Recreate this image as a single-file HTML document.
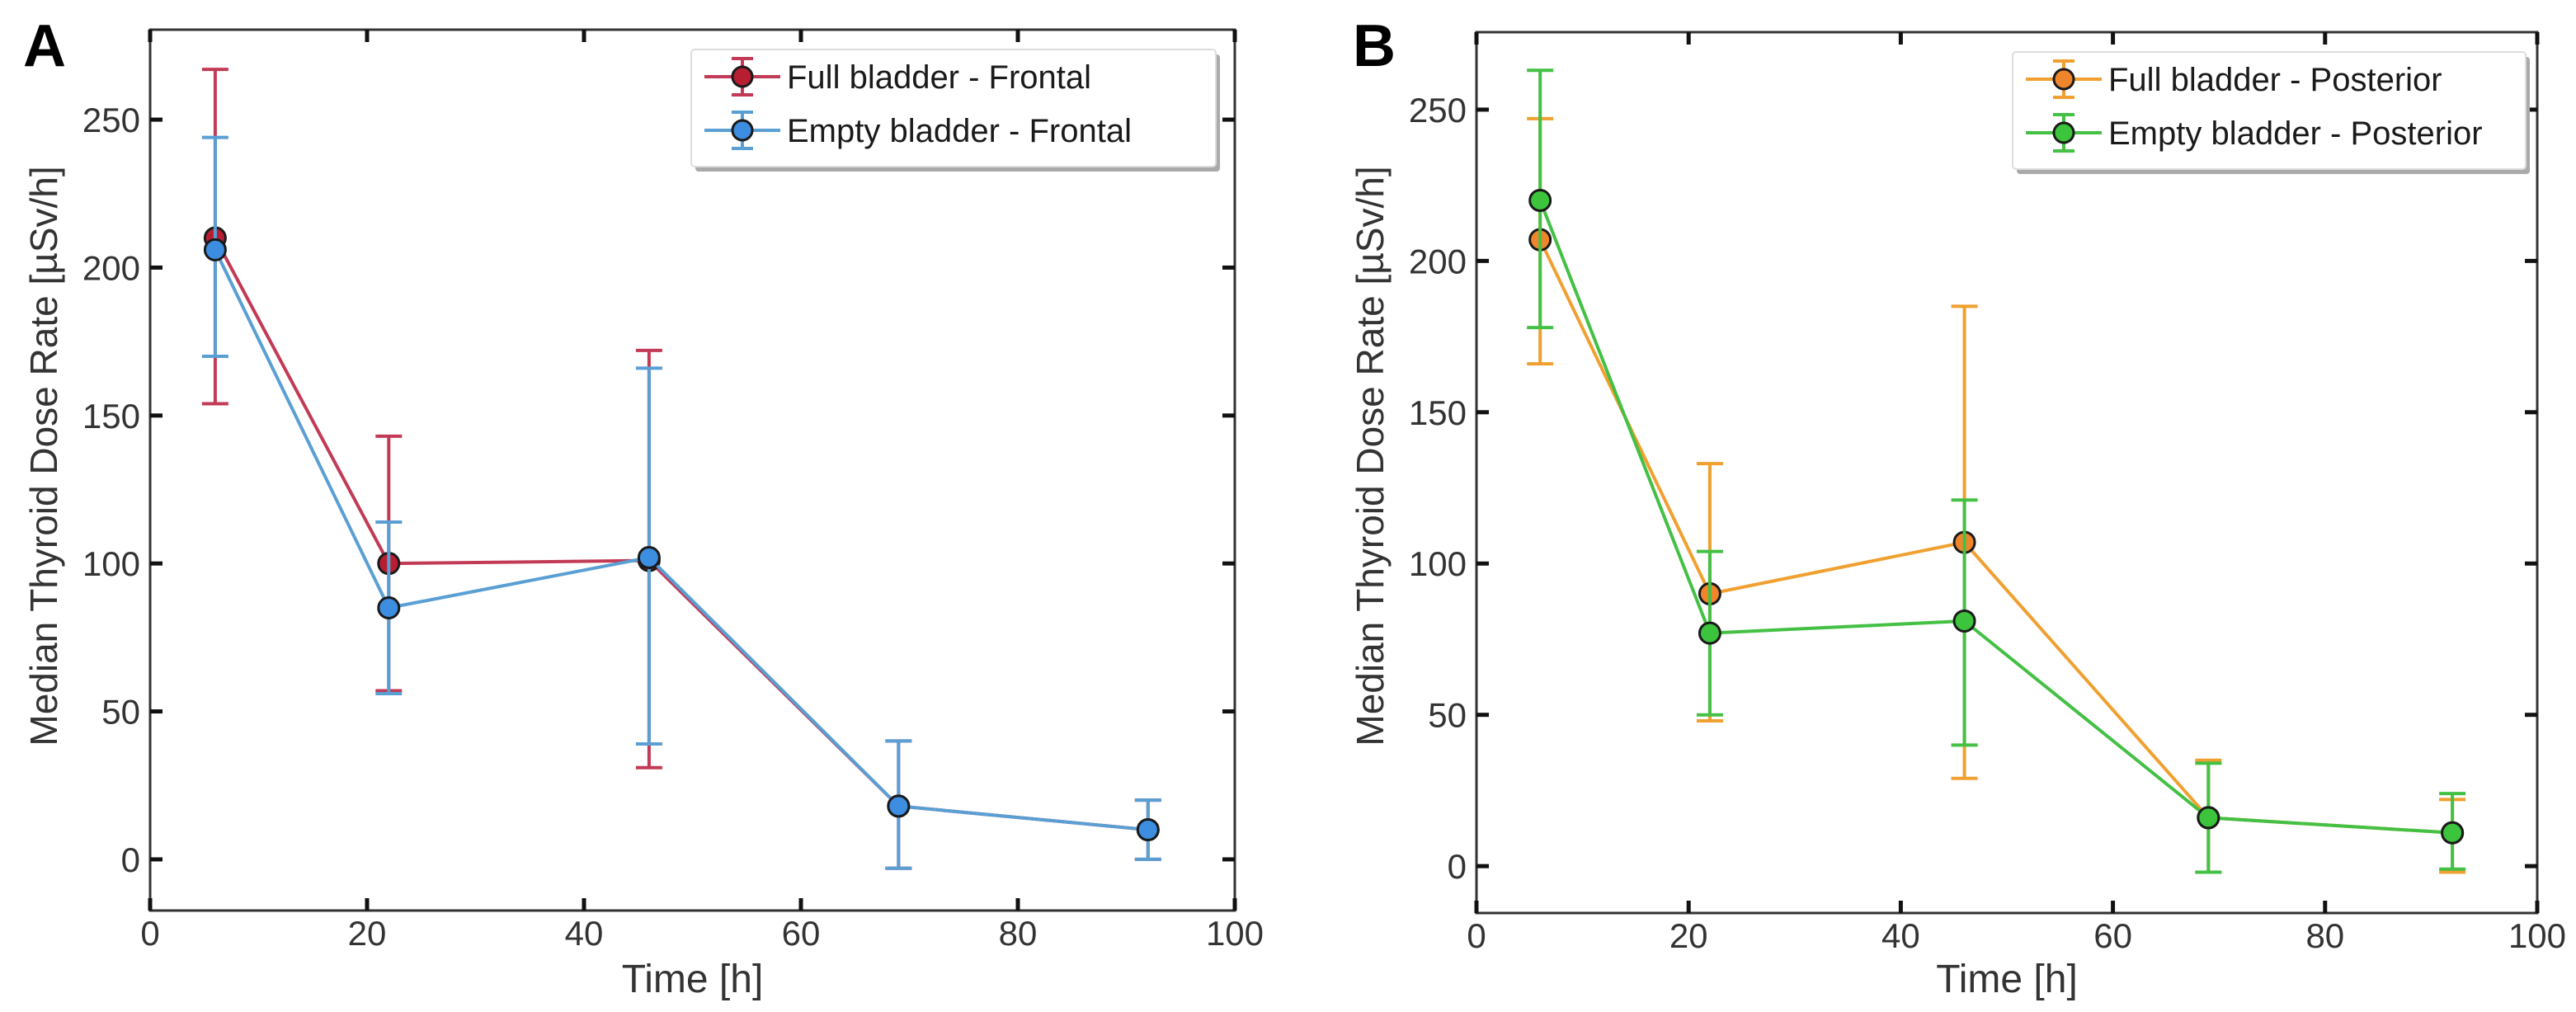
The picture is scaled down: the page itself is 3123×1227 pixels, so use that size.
<!DOCTYPE html>
<html><head><meta charset="utf-8"><style>
html,body{margin:0;padding:0;background:#fff;overflow:hidden}
svg{display:block}
text{font-family:"Liberation Sans",sans-serif;fill:#333}
</style></head><body>
<svg id="chart" width="3123" height="1227"></svg>
<script>
const timesH = [6,22,46,69,92];
const fullFrontal = [210,100,101,18,10];
const fullFrontalLo = [154,57,31,-3,0];
const fullFrontalHi = [267,143,172,40,20];
const emptyFrontal = [206,85,102,18,10];
const emptyFrontalLo = [170,56,39,-3,0];
const emptyFrontalHi = [244,114,166,40,20];
const fullPosterior = [207,90,107,16,11];
const fullPosteriorLo = [166,48,29,-2,-2];
const fullPosteriorHi = [247,133,185,35,22];
const emptyPosterior = [220,77,81,16,11];
const emptyPosteriorLo = [178,50,40,-2,-1];
const emptyPosteriorHi = [263,104,121,34,24];
const xTicks = [0,20,40,60,80,100];
const yTicks = [0,50,100,150,200,250];

const NS='http://www.w3.org/2000/svg';
const svg=document.getElementById('chart');
function mk(tag,attrs,parent){const e=document.createElementNS(NS,tag);for(const k in attrs)e.setAttribute(k,attrs[k]);(parent||svg).appendChild(e);return e;}

function panel(p){
  const g=mk('g',{});
  
  
  const sx=v=>p.x0+(v-0)/(100-0)*(p.x1-p.x0);
  const sy=v=>p.y0-(v-p.ymin)/(p.ymax-p.ymin)*(p.y0-p.y1);
  const box=mk('rect',{x:p.x0,y:p.y1,width:p.x1-p.x0,height:p.y0-p.y1,fill:'none',stroke:'#333','stroke-width':3},g);
  
  
  xTicks.forEach(t=>{
    const x=sx(t);
    mk('line',{x1:x,x2:x,y1:p.y0,y2:p.y0-15,stroke:'#111','stroke-width':5},g);
    mk('line',{x1:x,x2:x,y1:p.y1,y2:p.y1+15,stroke:'#111','stroke-width':5},g);
    const tx=mk('text',{x:x,y:p.y0+42,'font-size':42,'text-anchor':'middle'},g);
    tx.textContent=t;
    
    
  });
  yTicks.forEach(t=>{
    const y=sy(t);
    mk('line',{x1:p.x0,x2:p.x0+15,y1:y,y2:y,stroke:'#111','stroke-width':5},g);
    mk('line',{x1:p.x1,x2:p.x1-15,y1:y,y2:y,stroke:'#111','stroke-width':5},g);
    const tx=mk('text',{x:p.x0-12,y:y+15,'font-size':42,'text-anchor':'end'},g);
    tx.textContent=t;
    
    
  });
  const xt=mk('text',{x:(p.x0+p.x1)/2,y:1203,'font-size':48,'text-anchor':'middle'},g);
  xt.textContent='Time [h]';
  
  
  const yx=p.x0-113, yy=553;
  const yt=mk('text',{x:yx,y:yy,'font-size':46,'text-anchor':'middle',transform:`rotate(-90 ${yx} ${yy})`},g);
  yt.textContent='Median Thyroid Dose Rate [µSv/h]';
  
  
  const lt=mk('text',{x:p.letterX,y:80,'font-size':72,'font-weight':'bold'},g);
  lt.textContent=p.letter;
  lt.style.fill='#000';
  
  

  p.series.forEach(s=>{
    const sg=mk('g',{},g);
    
    
    timesH.forEach((t,i)=>{
      const x=sx(t);
      mk('line',{x1:x,x2:x,y1:sy(s.lo[i]),y2:sy(s.hi[i]),stroke:s.line,'stroke-width':4},sg);
      mk('line',{x1:x-16,x2:x+16,y1:sy(s.lo[i]),y2:sy(s.lo[i]),stroke:s.line,'stroke-width':4},sg);
      mk('line',{x1:x-16,x2:x+16,y1:sy(s.hi[i]),y2:sy(s.hi[i]),stroke:s.line,'stroke-width':4},sg);
    });
    const pts=timesH.map((t,i)=>sx(t)+','+sy(s.vals[i])).join(' ');
    const pl=mk('polyline',{points:pts,fill:'none',stroke:s.line,'stroke-width':4},sg);
    
    
    timesH.forEach((t,i)=>{
      const c=mk('circle',{cx:sx(t),cy:sy(s.vals[i]),r:12.5,fill:s.fill,stroke:'#1a1a1a','stroke-width':3},sg);
      
      
    });
  });
  // legend
  const lg=mk('g',{},g);
  
  
  const lh=142;
  mk('rect',{x:p.lx+5,y:p.ly+6,width:p.lw,height:lh,fill:'#aaa',rx:4},lg);
  mk('rect',{x:p.lx,y:p.ly,width:p.lw,height:lh,fill:'#fff',stroke:'#ddd','stroke-width':2,rx:4},lg);
  p.series.forEach((s,i)=>{
    const cy=p.ly+33+i*65, cx=p.lx+62;
    const e=mk('g',{},lg);
    
    
    mk('line',{x1:cx-46,x2:cx+46,y1:cy,y2:cy,stroke:s.line,'stroke-width':4},e);
    mk('line',{x1:cx,x2:cx,y1:cy-22,y2:cy+22,stroke:s.line,'stroke-width':4},e);
    mk('line',{x1:cx-13,x2:cx+13,y1:cy-22,y2:cy-22,stroke:s.line,'stroke-width':4},e);
    mk('line',{x1:cx-13,x2:cx+13,y1:cy+22,y2:cy+22,stroke:s.line,'stroke-width':4},e);
    mk('circle',{cx:cx,cy:cy,r:12,fill:s.fill,stroke:'#1a1a1a','stroke-width':3},e);
    const tx=mk('text',{x:cx+54,y:cy+14,'font-size':40},e);
    tx.textContent=s.label;
    tx.style.fill='#1a1a1a';
  });
}

panel({name:'panel-a',letter:'A',letterX:28,x0:182,x1:1497,y0:1104,y1:36,ymin:-17.3,ymax:280.4,
  lx:838,ly:60,lw:636,
  series:[
   {id:'full-frontal',label:'Full bladder - Frontal',vals:fullFrontal,lo:fullFrontalLo,hi:fullFrontalHi,line:'#c23a55',fill:'#b81e32'},
   {id:'empty-frontal',label:'Empty bladder - Frontal',vals:emptyFrontal,lo:emptyFrontalLo,hi:emptyFrontalHi,line:'#5a9fd4',fill:'#3d8de0'}
  ]});
panel({name:'panel-b',letter:'B',letterX:1640,x0:1790,x1:3076,y0:1107,y1:39,ymin:-15.5,ymax:275.6,
  lx:2440,ly:63,lw:622,
  series:[
   {id:'full-posterior',label:'Full bladder - Posterior',vals:fullPosterior,lo:fullPosteriorLo,hi:fullPosteriorHi,line:'#f0a030',fill:'#f0862c'},
   {id:'empty-posterior',label:'Empty bladder - Posterior',vals:emptyPosterior,lo:emptyPosteriorLo,hi:emptyPosteriorHi,line:'#44c044',fill:'#3cc43c'}
  ]});
</script>
</body></html>
